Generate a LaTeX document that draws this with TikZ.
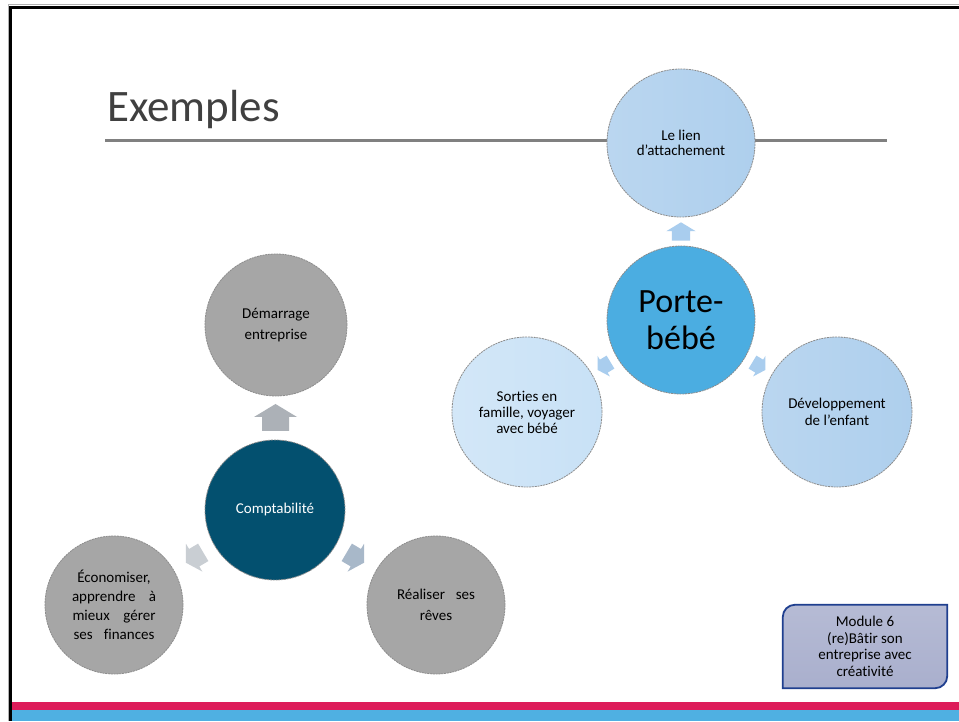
\documentclass[tikz,border=0pt]{standalone}
\usepackage{fontspec}
\setmainfont{Carlito}[Ligatures={NoCommon}]
\usetikzlibrary{calc,backgrounds}
\definecolor{titlegray}{RGB}{64,64,64}
\definecolor{rulegray}{RGB}{128,128,128}
\definecolor{circgray}{RGB}{166,166,166}
\definecolor{teal}{RGB}{3,80,111}
\definecolor{porteblue}{RGB}{75,173,225}
\definecolor{lightblue}{RGB}{174,207,237}
\definecolor{paleblue}{RGB}{200,225,246}
\definecolor{pinkbar}{RGB}{221,28,90}
\definecolor{bluebar}{RGB}{79,176,226}
\definecolor{arrgray}{RGB}{172,177,183}
\definecolor{arrgrayl}{RGB}{201,206,211}
\definecolor{arrgrayb}{RGB}{168,184,201}
\definecolor{arrblue}{RGB}{169,205,238}
\definecolor{modfill}{RGB}{169,175,205}
\definecolor{modborder}{RGB}{31,63,143}
\newcommand{\spreadline}[3]{\hbox to #1{#2\hfill #3}}
\tikzset{
  bubble/.style={circle, inner sep=0pt, align=center, draw={rgb,255:red,140;green,140;blue,140},
    line width=0.8pt, dash pattern=on 2pt off 0.8pt, text=black},
  graybubble/.style={bubble, fill=circgray},
  bluebubble/.style={bubble, left color=lightblue!85!white, right color=lightblue},
  palebubble/.style={bubble, left color=paleblue!80!white, right color=paleblue},
  blockarrow/.pic={\fill[pic actions] (-13.5,-13.5) -- (0.5,-13.5) -- (0.5,-21.5) -- (13.5,0)
     -- (0.5,21.5) -- (0.5,13.5) -- (-13.5,13.5) -- cycle;},
}
\begin{document}
\begin{tikzpicture}[x=1pt,y=1pt]
\useasboundingbox (0,0) rectangle (959,721);
% bottom bars
\fill[pinkbar] (8,11) rectangle (959,19.5);
\fill[bluebar] (8,0) rectangle (959,11);
% frame
\draw[gray!60, line width=1pt] (8,0) -- (8,716) -- (959,716);
\draw[black, line width=3pt] (10.5,0) -- (10.5,713.5) -- (959,713.5);
% title
\node[anchor=base west, inner sep=0pt, text=titlegray, font=\fontsize{45}{45}\selectfont] (title) at (107,599) {Exemples};
\coordinate (ruleL) at (105,580.5);
\coordinate (ruleR) at (887,580.5);
\draw[rulegray, line width=2.5pt] (ruleL) -- (ruleR);
% left diagram
\node[graybubble, minimum size=142pt, font=\fontsize{15}{21}\selectfont] (dem) at (276,396) {Démarrage\\entreprise};
\node[bubble, fill=teal, text=white, minimum size=140pt, font=\fontsize{15}{18}\selectfont] (comp) at (275,211) {Comptabilité};
\node[graybubble, minimum size=138pt, font=\fontsize{15}{19}\selectfont] (econ) at (114,116)
  {Économiser,\\\spreadline{84pt}{apprendre}{à}\\\spreadline{83pt}{mieux}{gérer}\\\spreadline{81pt}{ses}{finances}};
\node[graybubble, minimum size=138pt, font=\fontsize{15}{21}\selectfont] (real) at (436,116)
  {\spreadline{78pt}{Réaliser}{ses}\\rêves};
\pic[fill=arrgray, rotate=90] at ($(comp)!0.5!(dem)$) {blockarrow};
\pic[fill=arrgrayl, scale=0.75, rotate=210.5] at ($(comp)!0.5!(econ)$) {blockarrow};
\pic[fill=arrgrayb, scale=0.75, rotate=-30.5] at ($(comp)!0.5!(real)$) {blockarrow};
% right diagram
\node[bluebubble, minimum size=148pt, font=\fontsize{15}{15.5}\selectfont] (lien) at (681,578) {Le lien\\d’attachement};
\node[bubble, fill=porteblue, minimum size=148pt, font=\fontsize{34}{37}\selectfont] (porte) at (681,401) {Porte-\\bébé};
\node[palebubble, minimum size=150pt, font=\fontsize{15}{16}\selectfont] (sort) at (527,309) {Sorties en\\famille, voyager\\avec bébé};
\node[bluebubble, minimum size=150pt, font=\fontsize{15}{16.5}\selectfont] (dev) at (837,309) {Développement\\de l’enfant};
\pic[fill=arrblue, scale=0.68, rotate=90] at ($(porte)!0.5!(lien)$) {blockarrow};
\pic[fill=arrblue, scale=0.56, rotate=211] at ($(porte)!0.5!(sort)$) {blockarrow};
\pic[fill=arrblue, scale=0.56, rotate=-31] at ($(porte)!0.5!(dev)$) {blockarrow};
% module box
\node[align=center, inner sep=0pt, minimum width=164pt, minimum height=83pt, font=\fontsize{15}{16.5}\selectfont] (mod) at (865,74.5)
  {Module 6\\(re)Bâtir son\\entreprise avec\\créativité};
\begin{scope}[on background layer]
\fill[white] (0,0) rectangle (959,721);
\draw[modborder, line width=1.8pt, top color=modfill!85!white, bottom color=modfill]
  (mod.south west) -- ([yshift=-12pt]mod.north west) arc[start angle=180, end angle=90, radius=12pt]
  -- (mod.north east) -- ([yshift=12pt]mod.south east) arc[start angle=0, end angle=-90, radius=12pt] -- cycle;
\end{scope}
\end{tikzpicture}
\end{document}
